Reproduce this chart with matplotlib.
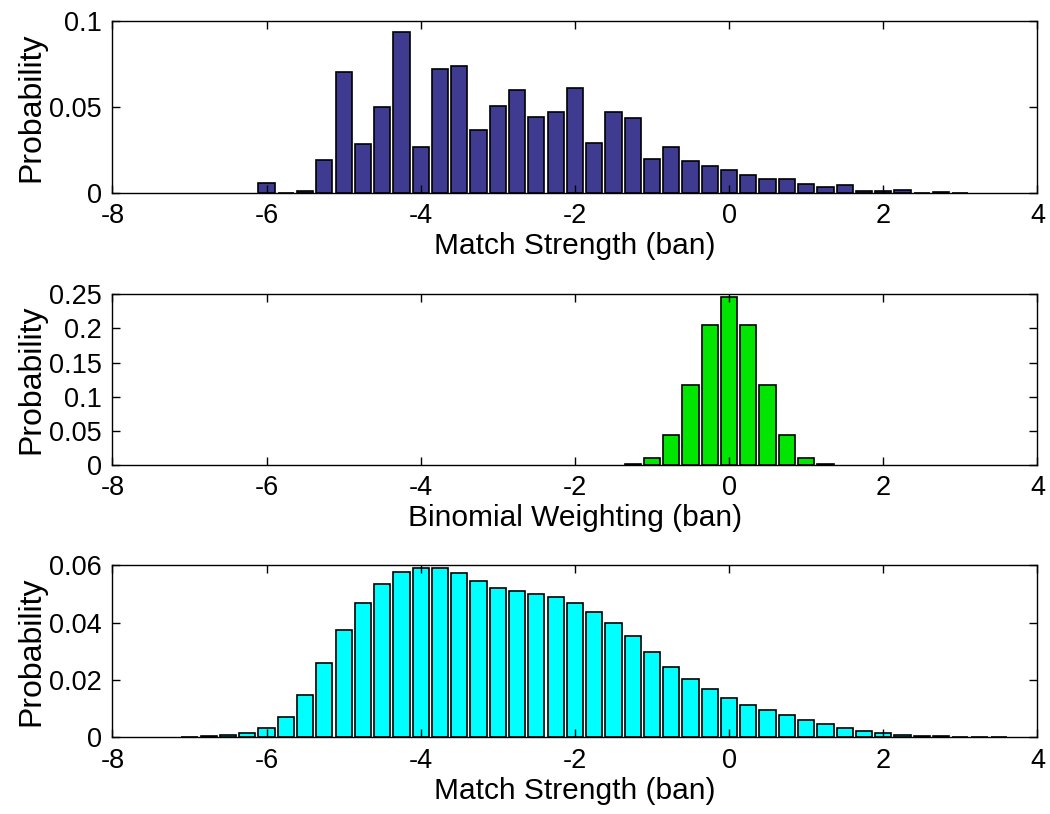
import numpy as np
import matplotlib.pyplot as plt

plt.rcParams['font.family'] = ['Liberation Sans', 'DejaVu Sans']

# bin centres (ban), step 0.25
x_top = [-6.0, -5.75, -5.5, -5.25, -5.0, -4.75, -4.5, -4.25, -4.0, -3.75,
         -3.5, -3.25, -3.0, -2.75, -2.5, -2.25, -2.0, -1.75, -1.5, -1.25,
         -1.0, -0.75, -0.5, -0.25, 0.0, 0.25, 0.5, 0.75, 1.0, 1.25,
         1.5, 1.75, 2.0, 2.25, 2.5, 2.75, 3.0]
p_top = [0.0057, 0.0, 0.0010, 0.0194, 0.0702, 0.0283, 0.0502, 0.0934, 0.0266, 0.0721,
         0.0740, 0.0364, 0.0506, 0.0597, 0.0442, 0.0471, 0.0610, 0.0293, 0.0473, 0.0434,
         0.0198, 0.0267, 0.0188, 0.0157, 0.0132, 0.0105, 0.0083, 0.0083, 0.0050, 0.0034,
         0.0047, 0.0010, 0.0012, 0.0015, 0.0, 0.0003, 0.0002]

x_mid = [-1.25, -1.0, -0.75, -0.5, -0.25, 0.0, 0.25, 0.5, 0.75, 1.0, 1.25]
p_mid = [0.0010, 0.0098, 0.0439, 0.1172, 0.2051, 0.2461, 0.2051, 0.1172, 0.0439, 0.0098, 0.0010]

x_bot = [-7.0, -6.75, -6.5, -6.25, -6.0, -5.75, -5.5, -5.25, -5.0, -4.75,
         -4.5, -4.25, -4.0, -3.75, -3.5, -3.25, -3.0, -2.75, -2.5, -2.25,
         -2.0, -1.75, -1.5, -1.25, -1.0, -0.75, -0.5, -0.25, 0.0, 0.25,
         0.5, 0.75, 1.0, 1.25, 1.5, 1.75, 2.0, 2.25, 2.5, 2.75,
         3.0, 3.25, 3.5]
p_bot = [0.0001, 0.00045, 0.0009, 0.0016, 0.0031, 0.0072, 0.0148, 0.0259, 0.0375, 0.0470,
         0.0535, 0.0575, 0.0592, 0.0590, 0.0572, 0.0547, 0.0522, 0.0510, 0.0501, 0.0489,
         0.0468, 0.0437, 0.0400, 0.0352, 0.0299, 0.0245, 0.0204, 0.0167, 0.0138, 0.0114,
         0.0094, 0.0077, 0.0060, 0.0045, 0.0032, 0.0022, 0.0015, 0.0009, 0.0006, 0.0003,
         0.0002, 0.0001, 0.00005]

fig = plt.figure(figsize=(10.5, 8.14), dpi=100)

panels = [
    (x_top, p_top, '#3f3b91', [0, 0.05, 0.1], ['0', '0.05', '0.1'], 0.1,
     'Match Strength (ban)', [0.107, 0.763, 0.881, 0.2113]),
    (x_mid, p_mid, '#00e600', [0, 0.05, 0.1, 0.15, 0.2, 0.25],
     ['0', '0.05', '0.1', '0.15', '0.2', '0.25'], 0.25,
     'Binomial Weighting (ban)', [0.107, 0.4287, 0.881, 0.2097]),
    (x_bot, p_bot, '#00ffff', [0, 0.02, 0.04, 0.06], ['0', '0.02', '0.04', '0.06'], 0.06,
     'Match Strength (ban)', [0.107, 0.0942, 0.881, 0.2113]),
]

for xs, ps, col, yt, ytl, ymax, xlab, pos in panels:
    ax = fig.add_axes(pos)
    ax.bar(xs, ps, width=0.21, color=col, edgecolor='black', linewidth=1.2)
    ax.set_xlim(-8, 4)
    ax.set_ylim(0, ymax)
    ax.set_xticks([-8, -6, -4, -2, 0, 2, 4])
    ax.set_xticklabels(['-8', '-6', '-4', '-2', '0', '2', '4'])
    ax.set_yticks(yt)
    ax.set_yticklabels(ytl)
    ax.tick_params(direction='in', top=True, right=True, length=6, width=1,
                   labelsize=19.5, pad=7.5)
    ax.set_xlabel(xlab, fontsize=21.5, labelpad=2)
    ax.set_ylabel('Probability', fontsize=23, labelpad=2)
    for s in ax.spines.values():
        s.set_linewidth(1)

fig.savefig('out.png', dpi=100)
